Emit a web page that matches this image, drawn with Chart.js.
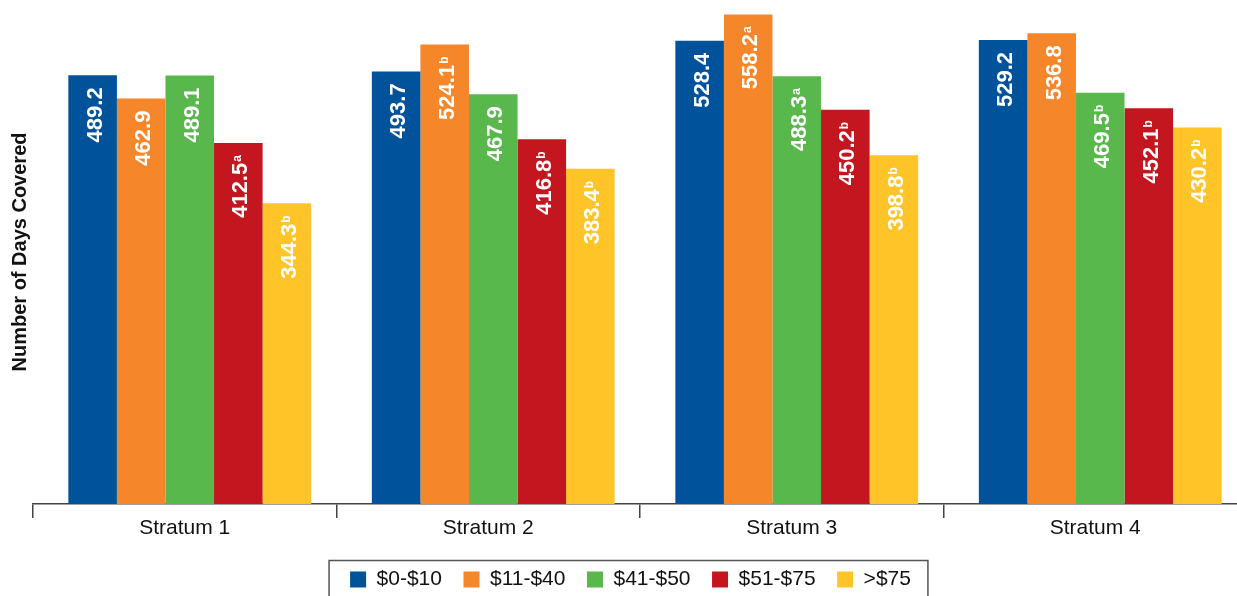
<!DOCTYPE html>
<html>
<head>
<meta charset="utf-8">
<title>Number of Days Covered by Stratum</title>
<script src="https://cdn.jsdelivr.net/npm/chart.js@4/dist/chart.umd.min.js"></script>
<style>
  html, body { margin: 0; padding: 0; background: #fff; overflow: hidden; }
  #wrap { position: relative; width: 1247px; height: 600px; }
</style>
</head>
<body>
<div id="wrap"><canvas id="myChart"></canvas></div>
<script>
// categories and series
var strata = ["Stratum 1", "Stratum 2", "Stratum 3", "Stratum 4"];
var bands = ["$0-$10", "$11-$40", "$41-$50", "$51-$75", ">$75"];
var colors = ["#00529b", "#f5862a", "#58b84c", "#c4161f", "#fec428"];

var days0to10 = [489.2, 493.7, 528.4, 529.2];
var days11to40 = [462.9, 524.1, 558.2, 536.8];
var days41to50 = [489.1, 467.9, 488.3, 469.5];
var days51to75 = [412.5, 416.8, 450.2, 452.1];
var daysOver75 = [344.3, 383.4, 398.8, 430.2];

// superscript marks next to each value
var marks0to10 = ["", "", "", ""];
var marks11to40 = ["", "b", "a", ""];
var marks41to50 = ["", "", "a", "b"];
var marks51to75 = ["a", "b", "b", "b"];
var marksOver75 = ["b", "b", "b", "b"];

var seriesValues = [days0to10, days11to40, days41to50, days51to75, daysOver75];
var seriesMarks = [marks0to10, marks11to40, marks41to50, marks51to75, marksOver75];

var fontName = "'Liberation Sans', Arial, Helvetica, sans-serif";
Chart.defaults.font.family = fontName;

var barShift = 5,
    legendShift = 7;

// white rotated value labels inside the bars
var barLabels = {
  id: "barLabels",
  beforeDatasetsDraw: function(chart) {
    chart.ctx.save();
    chart.ctx.translate(barShift, 0);
  },
  afterDatasetsDraw: function(chart) {
    var ctx = chart.ctx;
    chart.data.datasets.forEach(function(ds, di) {
      chart.getDatasetMeta(di).data.forEach(function(bar, i) {
        var txt = ds.data[i].toFixed(1),
            sup = ds.marks[i],
            end = -12;
        ctx.save();
        ctx.translate(bar.x, bar.y);
        ctx.rotate(-Math.PI / 2);
        ctx.fillStyle = "#fff";
        ctx.textAlign = "right";
        ctx.textBaseline = "alphabetic";
        if (sup) {
          ctx.font = "bold 12px " + fontName;
          ctx.fillText(sup, end, 3);
          end -= ctx.measureText(sup).width + 1;
        }
        ctx.font = "bold 22px " + fontName;
        ctx.fillText(txt, end, 9);
        ctx.restore();
      });
    });
    ctx.restore();
  }
};

// frame around the legend row, legend nudged a little right
var legendFrame = {
  id: "legendFrame",
  afterLayout: function(chart) {
    chart.legend.left += legendShift;
    chart.legend.right += legendShift;
  },
  afterDraw: function(chart) {
    var boxes = chart.legend.legendHitBoxes;
    if (!boxes || !boxes.length) return;
    var first = boxes[0], last = boxes[boxes.length - 1];
    var ctx = chart.ctx;
    var left = first.left - 21, right = last.left + last.width + 17;
    ctx.save();
    ctx.strokeStyle = "#555";
    ctx.lineWidth = 1.5;
    ctx.strokeRect(left, first.top - 8.5, right - left, 60);
    ctx.restore();
  }
};

var ctx = document.getElementById("myChart").getContext("2d");
var chart = new Chart(ctx, {
  type: "bar",
  data: {
    labels: strata,
    datasets: bands.map(function(b, i) {
      return {
        label: b,
        data: seriesValues[i],
        marks: seriesMarks[i],
        backgroundColor: colors[i],
        borderWidth: 0,
        barPercentage: 1,
        categoryPercentage: 0.8
      };
    })
  },
  options: {
    responsive: true,
    maintainAspectRatio: false,
    animation: false,
    layout: { padding: 0 },
    plugins: {
      legend: {
        position: "bottom",
        labels: {
          boxWidth: 16,
          boxHeight: 16,
          padding: 21.5,
          color: "#111",
          font: { size: 21 }
        }
      },
      tooltip: { enabled: false }
    },
    scales: {
      x: {
        grid: { offset: true, drawOnChartArea: false, tickLength: 14, color: "#444", lineWidth: 1.5 },
        border: { color: "#444", width: 1.5 },
        ticks: { color: "#111", padding: -2, font: { size: 21 } },
        afterFit: function(s) { s.height = 43.5; }
      },
      y: {
        min: 4,
        max: 574.5,
        ticks: { display: false },
        grid: { display: false },
        border: { display: false },
        title: {
          display: true,
          text: "Number of Days Covered",
          color: "#111",
          font: { size: 20, weight: "bold" },
          padding: { top: 8, bottom: 0 }
        },
        afterFit: function(s) { s.width = 33; }
      }
    }
  },
  plugins: [barLabels, legendFrame]
});
</script>
</body>
</html>
